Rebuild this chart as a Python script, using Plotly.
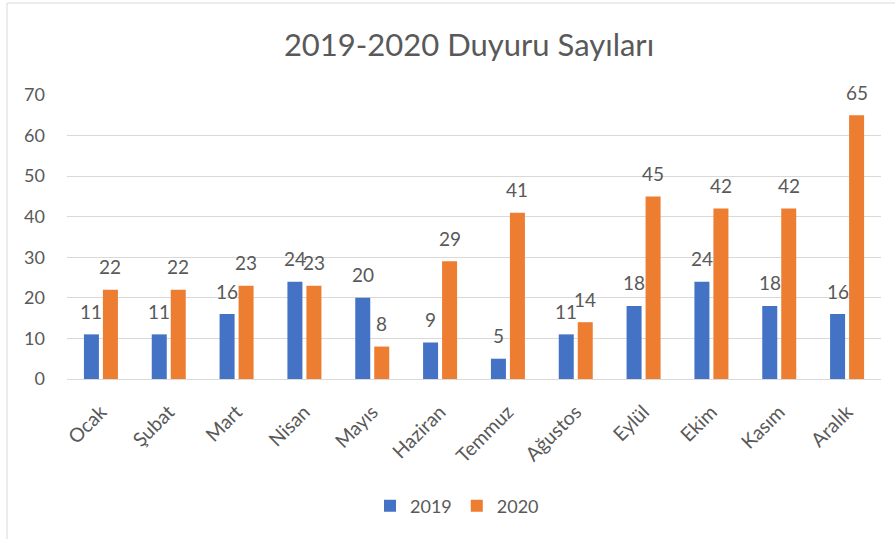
import plotly.graph_objects as go

months = ["Ocak", "Şubat", "Mart", "Nisan", "Mayıs", "Haziran", "Temmuz",
          "Ağustos", "Eylül", "Ekim", "Kasım", "Aralık"]
values_2019 = [11, 11, 16, 24, 20, 9, 5, 11, 18, 24, 18, 16]
values_2020 = [22, 22, 23, 23, 8, 29, 41, 14, 45, 42, 42, 65]
y_ticks = [0, 10, 20, 30, 40, 50, 60, 70]

BLUE = "#4472C4"
ORANGE = "#ED7D31"
TXT = "#595959"
FONT = "Lato, 'Open Sans', sans-serif"

W, H = 895, 539
ML, MR, MT, MB = 67, 14, 95, 160
PW = W - ML - MR
PH = H - MT - MB

fig = go.Figure()
fig.add_trace(go.Bar(name="2019", x=months, y=values_2019, marker_color=BLUE,
                     marker_line_width=0))
fig.add_trace(go.Bar(name="2020", x=months, y=values_2020, marker_color=ORANGE,
                     marker_line_width=0))

annotations = []
for vals, shift in ((values_2019, -9.5), (values_2020, 9.5)):
    for m, v in zip(months, vals):
        annotations.append(dict(x=m, y=v, xref="x", yref="y", text=str(v),
                                showarrow=False, xshift=shift, yshift=23,
                                yanchor="middle", xanchor="center",
                                font=dict(family=FONT, size=19, color=TXT)))

def px_x(px):
    return (px - ML) / PW

def px_y(py):
    return (H - MB - py) / PH

fig.update_layout(
    width=W, height=H,
    margin=dict(l=ML, r=MR, t=MT, b=MB, autoexpand=False),
    paper_bgcolor="white", plot_bgcolor="white",
    barmode="group", bargap=0.44, bargroupgap=0.21,
    title=dict(text="2019-2020 Duyuru Sayıları", x=px_x(469), xref="paper",
               xanchor="center", y=1 - 45 / H, yref="container", yanchor="middle",
               font=dict(family=FONT, size=31, color=TXT)),
    font=dict(family=FONT, color=TXT),
    xaxis=dict(showgrid=False, showline=True, linecolor="#D9D9D9", linewidth=1,
               tickangle=-45, tickfont=dict(family=FONT, size=19.5, color=TXT),
               ticks="", ticklabelstandoff=13),
    yaxis=dict(range=[0, 70], tickvals=y_ticks, showgrid=True, gridcolor="#D9D9D9",
               gridwidth=1, zeroline=False, showline=False,
               tickfont=dict(family=FONT, size=18, color=TXT), ticklabelstandoff=21),
    legend=dict(orientation="h", x=px_x(457), xanchor="center", xref="paper",
                y=1 - 506 / H, yref="container", yanchor="middle",
                font=dict(family=FONT, size=18, color=TXT), itemwidth=30,
                traceorder="normal"),
    annotations=annotations,
    shapes=[dict(type="rect", xref="paper", yref="paper",
                 x0=px_x(7), x1=px_x(960), y0=px_y(580), y1=px_y(3),
                 line=dict(color="#D9D9D9", width=1), fillcolor="rgba(0,0,0,0)",
                 layer="below")],
)

fig.write_html("out.html", config={"displayModeBar": False},
               post_script="document.body.style.margin='0';document.body.style.padding='0';")
